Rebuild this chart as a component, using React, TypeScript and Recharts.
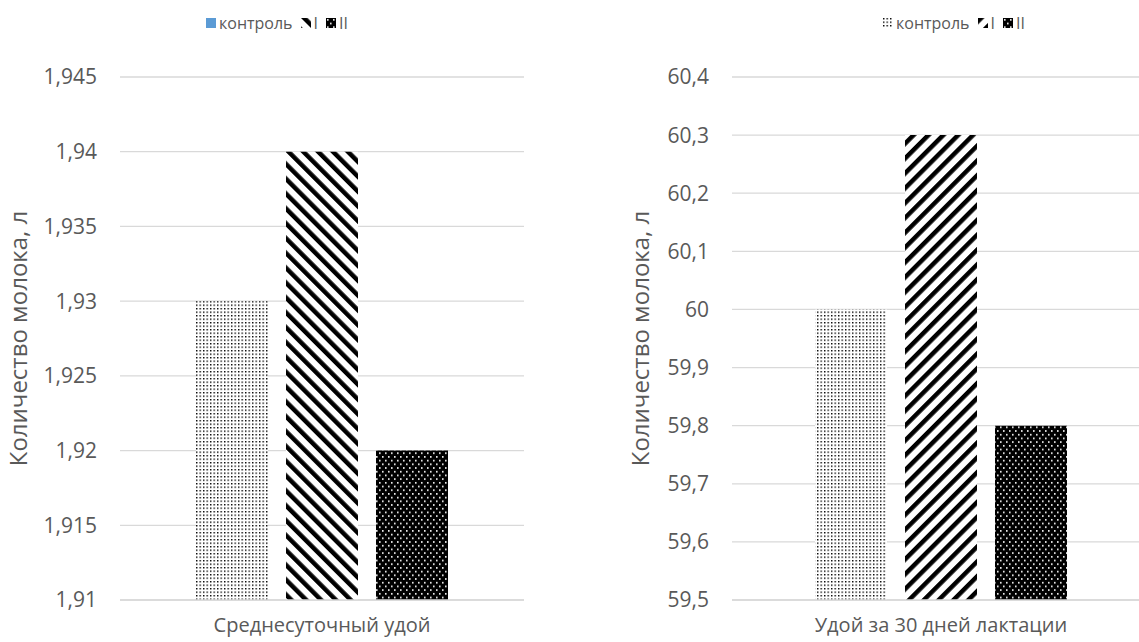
import React from 'react';
import { BarChart, Bar, XAxis, YAxis, CartesianGrid, Legend, Label } from 'recharts';

// Groups and their values
const seriesKeys = ['control', 'g1', 'g2'];
const seriesNames = ['контроль', 'I', 'II'];

const dailyCategory = ['Среднесуточный удой'];
const dailyControl = [1.93];
const dailyGroup1 = [1.94];
const dailyGroup2 = [1.92];
const dailyTicks = [1.91, 1.915, 1.92, 1.925, 1.93, 1.935, 1.94, 1.945];

const monthCategory = ['Удой за 30 дней лактации'];
const monthControl = [60.0];
const monthGroup1 = [60.3];
const monthGroup2 = [59.8];
const monthTicks = [59.5, 59.6, 59.7, 59.8, 59.9, 60.0, 60.1, 60.2, 60.3, 60.4];

const yTitle = 'Количество молока, л';

const FONT = "'Open Sans', 'Noto Sans', sans-serif";
const TEXT = '#595959';
const GRID = '#D9D9D9';

const buildRows = (cats: string[], a: number[], b: number[], c: number[]) =>
  cats.map((category, i) => ({ category, control: a[i], g1: b[i], g2: c[i] }));

const dailyRows = buildRows(dailyCategory, dailyControl, dailyGroup1, dailyGroup2);
const monthRows = buildRows(monthCategory, monthControl, monthGroup1, monthGroup2);

const fmt = (digits: number) => (v: number) => String(Number(v.toFixed(digits))).replace('.', ',');

const PatternDefs = () => (
  <svg width={0} height={0} style={{ position: 'absolute' }}>
    <defs>
      <pattern id="dotsLight" patternUnits="userSpaceOnUse" width={3.5} height={3.5}>
        <rect width={3.5} height={3.5} fill="#fff" />
        <rect x={0} y={0} width={1.4} height={1.4} fill="#000" />
      </pattern>
      <pattern id="stripesDown" patternUnits="userSpaceOnUse" width={10.5} height={10.5} patternTransform="rotate(-45)">
        <rect width={10.5} height={10.5} fill="#fff" />
        <rect x={0} y={0} width={4.5} height={10.5} fill="#000" />
      </pattern>
      <pattern id="stripesUp" patternUnits="userSpaceOnUse" width={10.5} height={10.5} patternTransform="rotate(45)">
        <rect width={10.5} height={10.5} fill="#fff" />
        <rect x={0} y={0} width={4.5} height={10.5} fill="#000" />
      </pattern>
      <pattern id="dotsDark" patternUnits="userSpaceOnUse" width={6} height={7.4}>
        <rect width={6} height={7.4} fill="#000" />
        <rect x={1} y={1} width={1.6} height={1.6} fill="#fff" />
        <rect x={4} y={4.7} width={1.6} height={1.6} fill="#fff" />
      </pattern>
    </defs>
  </svg>
);

// Legend drawn in series order with its own marker swatches
const makeLegend = (markers: string[], startX: number) => (props: any) => {
  const payload = [...(props.payload || [])].sort(
    (a: any, b: any) => seriesNames.indexOf(a.value) - seriesNames.indexOf(b.value)
  );
  return (
    <div
      style={{
        display: 'flex',
        justifyContent: 'flex-start',
        alignItems: 'center',
        height: 30,
        paddingLeft: startX,
        fontFamily: FONT,
        fontSize: 16,
        color: TEXT,
      }}
    >
      {payload.map((entry: any, i: number) => (
        <span key={i} style={{ display: 'inline-flex', alignItems: 'center', marginRight: 8 }}>
          <svg width={10} height={10} style={{ marginRight: 3 }}>
            <rect width={10} height={10} fill={markers[seriesNames.indexOf(entry.value)]} />
          </svg>
          {entry.value}
        </span>
      ))}
    </div>
  );
};

type PanelProps = {
  rows: any[];
  ticks: number[];
  digits: number;
  fills: string[];
  markers: string[];
  left: number;
  width: number;
  axisWidth: number;
  marginRight: number;
  titleOffset: number;
  legendX: number;
};

const Panel = ({ rows, ticks, digits, fills, markers, left, width, axisWidth, marginRight, titleOffset, legendX }: PanelProps) => (
  <div style={{ position: 'absolute', left, top: 0 }}>
    <BarChart
      width={width}
      height={642}
      data={rows}
      margin={{ top: 47, right: marginRight, bottom: 0, left: 0 }}
      barGap={18}
      barSize={72}
    >
      <CartesianGrid vertical={false} stroke={GRID} strokeWidth={1.3} />
      <XAxis
        dataKey="category"
        tickLine={false}
        axisLine={{ stroke: GRID, strokeWidth: 1.3 }}
        tick={{ fill: TEXT, fontSize: 20, fontFamily: FONT }}
        tickMargin={12}
        height={42}
      />
      <YAxis
        width={axisWidth}
        domain={[ticks[0], ticks[ticks.length - 1]]}
        ticks={ticks}
        interval={0}
        allowDataOverflow
        tickLine={false}
        axisLine={false}
        tickMargin={17}
        tickFormatter={fmt(digits)}
        tick={{ fill: TEXT, fontSize: 21, fontFamily: FONT }}
      >
        <Label
          value={yTitle}
          angle={-90}
          position="insideLeft"
          offset={titleOffset}
          textAnchor="middle"
          style={{ fill: TEXT, fontSize: 24, fontFamily: FONT, textAnchor: 'middle' }}
        />
      </YAxis>
      <Legend
        verticalAlign="top"
        align="left"
        wrapperStyle={{ top: 8, left: 0, width }}
        content={makeLegend(markers, legendX)}
      />
      {seriesKeys.map((key, i) => (
        <Bar key={key} dataKey={key} name={seriesNames[i]} fill={fills[i]} isAnimationActive={false} />
      ))}
    </BarChart>
  </div>
);

export default function App() {
  return (
    <div style={{ position: 'fixed', left: 0, top: 0, width: 1139, height: 642, overflow: 'hidden', background: '#fff' }}>
      <PatternDefs />
      <Panel
        rows={dailyRows}
        ticks={dailyTicks}
        digits={3}
        fills={['url(#dotsLight)', 'url(#stripesDown)', 'url(#dotsDark)']}
        markers={['#5B9BD5', 'url(#stripesDown)', 'url(#dotsDark)']}
        left={0}
        width={560}
        axisWidth={120}
        marginRight={36}
        titleOffset={18}
        legendX={206}
      />
      <Panel
        rows={monthRows}
        ticks={monthTicks}
        digits={1}
        fills={['url(#dotsLight)', 'url(#stripesUp)', 'url(#dotsDark)']}
        markers={['url(#dotsLight)', 'url(#stripesUp)', 'url(#dotsDark)']}
        left={600}
        width={600}
        axisWidth={132}
        marginRight={50}
        titleOffset={40}
        legendX={283}
      />
    </div>
  );
}
